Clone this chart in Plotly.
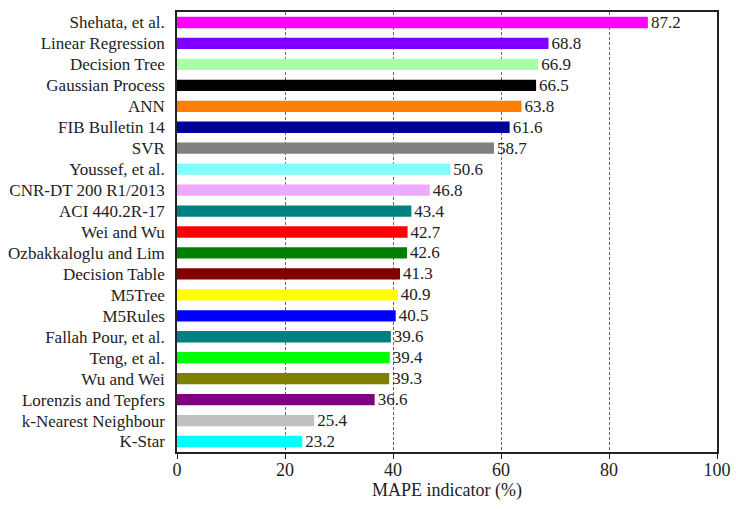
import plotly.graph_objects as go

categories = ["Shehata, et al.", "Linear Regression", "Decision Tree", "Gaussian Process", "ANN",
              "FIB Bulletin 14", "SVR", "Youssef, et al.", "CNR-DT 200 R1/2013", "ACI 440.2R-17",
              "Wei and Wu", "Ozbakkaloglu and Lim", "Decision Table", "M5Tree", "M5Rules",
              "Fallah Pour, et al.", "Teng, et al.", "Wu and Wei", "Lorenzis and Tepfers",
              "k-Nearest Neighbour", "K-Star"]
values = [87.2, 68.8, 66.9, 66.5, 63.8, 61.6, 58.7, 50.6, 46.8, 43.4, 42.7, 42.6, 41.3, 40.9,
          40.5, 39.6, 39.4, 39.3, 36.6, 25.4, 23.2]
colors = ["#FF00FF", "#8000FF", "#AAFFAA", "#000000", "#FF8000", "#000099", "#808080", "#80FFFF",
          "#EEAAFF", "#008080", "#FF0000", "#008000", "#800000", "#FFFF00", "#0000FF", "#008080",
          "#00FF00", "#808000", "#800080", "#C0C0C0", "#00FFFF"]
x_ticks = [0, 20, 40, 60, 80, 100]

FONT = "Liberation Serif, Times New Roman, serif"

fig = go.Figure(go.Bar(
    y=categories, x=values, orientation="h",
    marker=dict(color=colors, line=dict(width=0)),
    width=0.54,
    text=[f"{v:.1f}" for v in values], textposition="outside",
    constraintext="none",
    textfont=dict(family=FONT, size=17, color="#222"),
    cliponaxis=False,
))

fig.update_layout(
    width=736, height=509,
    margin=dict(l=177, r=19, t=12, b=57),
    paper_bgcolor="white", plot_bgcolor="white",
    font=dict(family=FONT, size=17, color="#222"),
    showlegend=False,
)
fig.update_xaxes(
    range=[0, 100], tickvals=x_ticks, ticks="outside", ticklen=5, tickcolor="#222",
    showline=True, linecolor="#222", linewidth=1.5, mirror=True,
    showgrid=True, gridcolor="#666", griddash="3px,2px", gridwidth=1,
    zeroline=False, tickfont=dict(size=18), automargin=False, ticklabelstandoff=-4,
    title=dict(text="MAPE indicator (%)", font=dict(size=18), standoff=2),
)
fig.update_yaxes(
    autorange="reversed", showline=True, linecolor="#222", linewidth=1.5, mirror=True,
    ticks="", ticklabelstandoff=7, showgrid=False, tickfont=dict(size=17), automargin=False,
)

fig.write_html("out.html")
